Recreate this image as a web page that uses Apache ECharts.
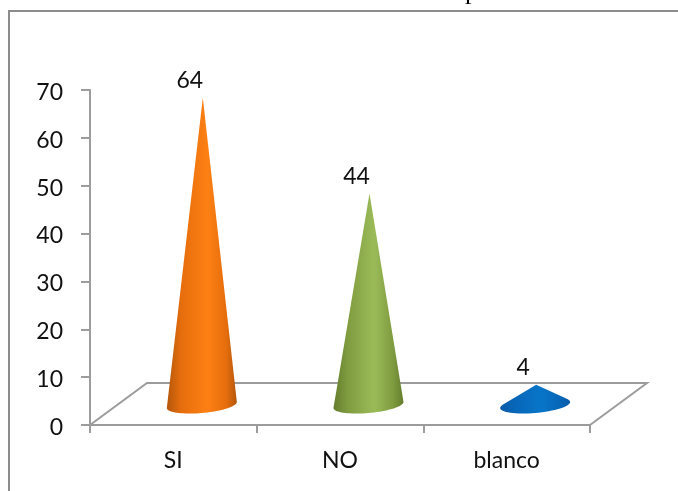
<!DOCTYPE html>
<html>
<head>
<meta charset="utf-8">
<style>
  html, body { margin: 0; padding: 0; background: #fff; }
  #chart { width: 678px; height: 491px; }
</style>
<script src="https://cdn.jsdelivr.net/npm/echarts@6/dist/echarts.min.js"></script>
</head>
<body>
<div id="chart"></div>
<script>
const categories = ["SI", "NO", "blanco"];
const values = [64, 44, 4];
const yTicks = { min: 0, max: 70, interval: 10 };

// edge / body / bright middle of each cone
const coneColors = [
  ["#b4570c", "#e56d0c", "#fd8014"],
  ["#647d2e", "#7f9c3f", "#9bbb59"],
  ["#0a5aa8", "#0766b8", "#0875c9"]
];

const axisGray = "#9c9c9c";
const labelFont = "23px Lato";
// fake 3d floor: how far the back edge sits from the front edge
const depthX = 57;
const depthY = 42;

function renderFloor(params, api) {
  const cs = params.coordSys;
  const left = cs.x;
  const right = cs.x + cs.width;
  const bottom = cs.y + cs.height;
  const style = { stroke: axisGray, lineWidth: 2, fill: null };
  return {
    type: "polyline",
    shape: {
      points: [
        [left, bottom],
        [left + depthX, bottom - depthY],
        [right + depthX, bottom - depthY],
        [right, bottom]
      ]
    },
    style
  };
}

function renderCone(params, api) {
  const i = params.dataIndex;
  const top = api.coord([i, api.value(1)]);
  const base = api.coord([i, 0]);
  const cx = base[0] + depthX / 2;
  const cy = base[1] - depthY / 2 + 1;
  const apexX = cx + 1;
  const apexY = top[1] - depthY / 2;
  const w = 35, ry = 8, tilt = 3;
  const h = cy - apexY;

  // tangent points on the ellipse, so the short cone keeps its shape
  const a = Math.asin(Math.min(1, ry / h));
  const pts = [[apexX, apexY]];
  for (let k = 0; k <= 40; k++) {
    const t = -a + (Math.PI + 2 * a) * k / 40;
    pts.push([cx + w * Math.cos(t), cy + ry * Math.sin(t) - tilt * Math.cos(t)]);
  }

  const c = coneColors[i];
  return {
    type: "group",
    children: [
      {
        type: "polygon",
        shape: { points: pts },
        style: {
          fill: new echarts.graphic.LinearGradient(0, 0, 1, 0, [
            { offset: 0, color: c[0] },
            { offset: 0.2, color: c[1] },
            { offset: 0.58, color: c[2] },
            { offset: 0.85, color: c[1] },
            { offset: 1, color: c[0] }
          ])
        }
      },
      {
        type: "text",
        x: apexX - 13,
        y: apexY - 17,
        style: {
          text: String(api.value(1)),
          font: labelFont,
          fill: "#111",
          align: "center",
          verticalAlign: "middle"
        }
      }
    ]
  };
}

const chart = echarts.init(document.getElementById("chart"), null, { renderer: "canvas" });

chart.setOption({
  animation: false,
  backgroundColor: "#fff",
  grid: { left: 90, right: 88, top: 90, bottom: 66 },
  graphic: [
    {
      // chart frame, runs off the right and bottom of the page
      type: "rect",
      shape: { x: 9, y: 11, width: 720, height: 520 },
      style: { stroke: "#8c8c8c", lineWidth: 2, fill: null },
      silent: true,
      z: -1
    },
    {
      // bottom of the title that is cut off in the source
      type: "text",
      x: 465,
      y: -21,
      style: { text: "p", font: "26px 'Liberation Serif'", fill: "#000" },
      silent: true
    }
  ],
  xAxis: {
    type: "category",
    data: categories,
    axisLine: { lineStyle: { color: axisGray, width: 2 } },
    axisTick: { show: true, length: 8, lineStyle: { color: axisGray, width: 2 } },
    axisLabel: { color: "#111", fontFamily: "Lato", fontSize: 23, margin: 24 }
  },
  yAxis: {
    type: "value",
    min: yTicks.min,
    max: yTicks.max,
    interval: yTicks.interval,
    splitLine: { show: false },
    axisLine: { show: true, lineStyle: { color: axisGray, width: 2 } },
    axisTick: { show: true, length: 9, lineStyle: { color: axisGray, width: 2 } },
    axisLabel: {
      margin: 27,
      formatter: "{t|{value}}",
      // nudges the tick labels down a little, as in the source
      rich: { t: { color: "#111", fontFamily: "Lato", fontSize: 23, padding: [5, 0, 0, 0] } }
    }
  },
  series: [
    {
      type: "custom",
      name: "floor",
      silent: true,
      renderItem: renderFloor,
      data: [[0, 0]],
      z: 1
    },
    {
      type: "custom",
      name: "valores",
      renderItem: renderCone,
      encode: { x: 0, y: 1 },
      data: values.map((v, i) => [i, v]),
      clip: false,
      z: 2
    }
  ]
});
</script>
</body>
</html>
